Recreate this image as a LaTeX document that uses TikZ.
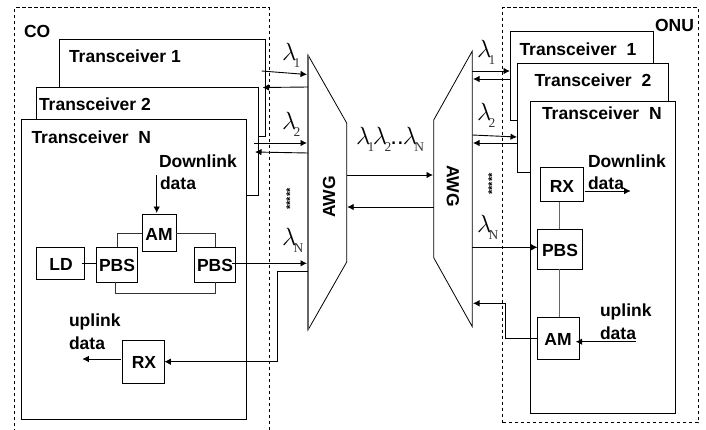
\documentclass[tikz,border=0pt]{standalone}
\usepackage{fontspec}
\setmainfont{Liberation Sans}
\newfontfamily\subfont{Liberation Serif}
\usetikzlibrary{arrows.meta}
\definecolor{gline}{HTML}{666666}
\definecolor{subcol}{HTML}{333333}
\newcommand{\boxnode}[6]{%
  \pgfmathsetmacro{\bw}{#4-#2}\pgfmathsetmacro{\bh}{#5-#3}%
  \pgfmathsetmacro{\bx}{(#2+#4)/2}\pgfmathsetmacro{\by}{(#3+#5)/2}%
  \node[#1,minimum width=\bw pt,minimum height=\bh pt] (#6) at (\bx,\by) {};}
\newcommand{\lam}[1]{\mbox{$\lambda$\kern-2.5pt\raisebox{-7pt}{\fontsize{13.5}{13.5}\selectfont\subfont\color{subcol}#1}}}
\tikzset{
  x=1pt,y=-1pt,
  every node/.style={inner sep=0pt,outer sep=0pt},
  panel/.style={draw,fill=white,line width=0.9pt,rectangle},
  area/.style={draw,dashed,line width=0.7pt,dash pattern=on 3.5pt off 2.5pt,rectangle},
  block/.style={draw,fill=white,line width=0.8pt,rectangle},
  tag/.style={font=\fontsize{17.5}{17.5}\selectfont\bfseries},
  lab/.style={font=\fontsize{17.5}{17.5}\selectfont\bfseries,anchor=base west},
  lamlab/.style={font=\fontsize{24}{24}\selectfont,anchor=base west},
  stars/.style={font=\fontsize{11}{11}\selectfont\bfseries,rotate=90},
  awgshape/.style={draw,fill=white,line width=0.8pt},
  wire/.style={line width=0.9pt},
  grey/.style={draw=gline,line width=1.2pt},
  arr/.style={line width=0.9pt,-{Latex[length=6.5pt,width=6.5pt]}},
}
\begin{document}
\begin{tikzpicture}
\useasboundingbox (0,0) rectangle (706,429);
% dashed areas
\draw[area] (14.5,450) -- (14.5,7.5) -- (269,7.5) -- (269,450);
\boxnode{area}{502.7}{7.5}{698}{422.7}{onuarea}
% CO transceivers
\boxnode{panel}{59.5}{39.5}{265}{136}{ct1}
\boxnode{panel}{36.5}{87.5}{258}{195}{ct2}
\boxnode{panel}{21.5}{119}{246}{419}{ctn}
% ONU transceivers
\boxnode{panel}{510}{31.5}{653}{120}{ot1}
\boxnode{panel}{517.5}{63}{668}{172}{ot2}
\boxnode{panel}{530}{101.5}{675.5}{413}{otn}
% AWGs
\coordinate (la1) at (308,55); \coordinate (la2) at (346.7,123);
\coordinate (la3) at (346.7,262); \coordinate (la4) at (308,330);
\coordinate (ra1) at (472.3,51); \coordinate (ra2) at (433.7,120);
\coordinate (ra3) at (433.7,257.7); \coordinate (ra4) at (472.3,326.7);
\draw[awgshape] (la1) -- (la2) -- (la3) -- (la4) -- cycle;
\draw[grey] (la1) -- (la4);
\draw[awgshape] (ra1) -- (ra2) -- (ra3) -- (ra4) -- cycle;
\node[tag,rotate=90] (awgltxt) at (329,197) {AWG};
\node[tag,rotate=-90] (awgrtxt) at (453,186) {AWG};
% labels
\node[lab] (co) at (24,37.3) {CO};
\node[lab] (onu) at (655,31) {ONU};
\node[lab] (ct1t) at (69,62.3) {Transceiver 1};
\node[lab] (ct2t) at (39,110) {Transceiver 2};
\node[lab] (ctnt) at (31.5,143.3) {Transceiver\ \ N};
\node[lab] (cdl1) at (159,167.3) {Downlink};
\node[lab] (cdl2) at (160,189) {data};
\node[lab] (cul1) at (69,326) {uplink};
\node[lab] (cul2) at (69,349) {data};
\node[lab] (ot1t) at (519.5,55) {Transceiver\ \ 1};
\node[lab] (ot2t) at (534.5,86) {Transceiver\ \ 2};
\node[lab] (otnt) at (542,119.3) {Transceiver\ \ N};
\node[lab] (odl1) at (588,167.3) {Downlink};
\node[lab] (odl2) at (588,189) {data};
\node[lab] (oul1) at (600,316.7) {uplink};
\node[lab] (oul2) at (600,339) {data};
% CO blocks
\boxnode{block}{142}{214}{176.3}{251.7}{cam}
\node[tag] (camt) at (159,234.5) {AM};
\boxnode{block}{36.7}{247.3}{84}{279.3}{cld}
\node[tag] (cldt) at (61,264.5) {LD};
\boxnode{block}{96.7}{247.3}{137.3}{282.3}{cpa}
\node[tag] (cpat) at (117,265.5) {PBS};
\boxnode{block}{194.3}{247.3}{235.3}{282.3}{cpb}
\node[tag] (cpbt) at (215,265.5) {PBS};
\boxnode{block}{122.3}{340.3}{164.3}{383.3}{crx}
\node[tag] (crxt) at (144,362) {RX};
% ONU blocks
\boxnode{block}{540}{167.5}{583}{201.7}{orx}
\node[tag] (orxt) at (562,186) {RX};
\boxnode{block}{537.5}{229.3}{582.7}{269.3}{opb}
\node[tag] (opbt) at (560,250) {PBS};
\boxnode{block}{537.5}{317.3}{579.7}{359}{oam}
\node[tag] (oamt) at (558,339) {AM};
% free ends
\coordinate (cdin) at (156.7,175);
\coordinate (cdin2) at (156.7,213);
\coordinate (cuo) at (82.3,359);
\coordinate (cuo0) at (120.7,359);
\coordinate (odo0) at (584.7,191); \coordinate (odo) at (630.7,191);
\coordinate (oui0) at (635.7,341.7); \coordinate (oui) at (575.7,341.7);
% CO internal wires
\draw[wire] (81.7,263.3) -- (cpa.west |- 0,263.3);
\draw[wire,draw=black!80] (cpa.north -| 117.3,0) -- (117.3,233.7) -- (cam.west |- 0,233.7);
\draw[wire,draw=black!80] (cam.east |- 0,233.7) -- (215,233.7) -- (cpb.north -| 215,0);
\draw[wire,draw=black!80] (cpa.south -| 115.7,0) -- (115.7,293.7) -- (215,293.7) -- (cpb.south -| 215,0);
\draw[arr] (cdin) -- (cdin2);
\draw[arr] (cuo0) -- (cuo);
% CO to AWG
\coordinate (a1o) at (261.7,71); \coordinate (a1i) at (307,74.5);
\coordinate (a2o) at (308,87); \coordinate (a2i) at (262.5,87.5);
\coordinate (a3o) at (254,143); \coordinate (a3i) at (307,143);
\coordinate (a4o) at (308,153); \coordinate (a4i) at (255,152);
\draw[arr] (a1o) -- (a1i);
\draw[arr] (a2o) -- (a2i);
\draw[arr] (a3o) -- (a3i);
\draw[arr] (a4o) -- (a4i);
\coordinate (a5o) at (232,263.3); \coordinate (a5i) at (307,263.3);
\draw[arr] (a5o) -- (a5i);
\coordinate (a6o) at (308,271.7);
\draw[arr] (a6o) -- (277.3,271.7) -- (277.3,361.7) -- (crx.east |- 0,361.7);
% between AWGs
\coordinate (m1o) at (346.7,175); \coordinate (m1i) at (433,175);
\coordinate (m2o) at (433.7,207); \coordinate (m2i) at (347.2,207);
\draw[arr] (m1o) -- (m1i);
\draw[arr] (m2o) -- (m2i);
% right side
\coordinate (r1o) at (472.3,71); \coordinate (r1i) at (510,71);
\coordinate (r2o) at (510,79); \coordinate (r2i) at (473,79);
\coordinate (r3o) at (472.3,135); \coordinate (r3i) at (517,137);
\coordinate (r4o) at (518,143); \coordinate (r4i) at (473,143);
\draw[arr] (r1o) -- (r1i);
\draw[arr] (r2o) -- (r2i);
\draw[arr] (r3o) -- (r3i);
\draw[arr] (r4o) -- (r4i);
\coordinate (r5o) at (472.3,247.3);
\draw[arr] (r5o) -- (opb.west |- 0,247.3);
\coordinate (r6i) at (473,303.3);
\draw[arr] (oam.west |- 0,338.3) -- (505.3,338.3) -- (505.3,303.3) -- (r6i);
% ONU internal wires
\draw[grey] (orx.south -| 559.7,0) -- (opb.north -| 559.7,0);
\draw[grey] (opb.south -| 559.7,0) -- (oam.north -| 559.7,0);
\draw[arr] (odo0) -- (odo);
\draw[arr] (oui0) -- (oui);
% wavelengths
\node[lamlab] (l1) at (282,60) {\lam{1}};
\node[lamlab] (l2) at (282,129) {\lam{2}};
\node[lamlab] (ln) at (282,245) {\lam{N}};
\node[lamlab] (r1) at (477,57) {\lam{1}};
\node[lamlab] (r2) at (477,120) {\lam{2}};
\node[lamlab] (rn) at (477,232) {\lam{N}};
\node[lamlab] (mid) at (356,144) {\lam{1}\kern-1.5pt\lam{2}\kern-1pt..\kern-1pt\lam{N}};
% stars
\node[stars] (s1) at (290,199) {*****};
\node[stars] (s2) at (492,184) {*****};
\end{tikzpicture}
\end{document}
